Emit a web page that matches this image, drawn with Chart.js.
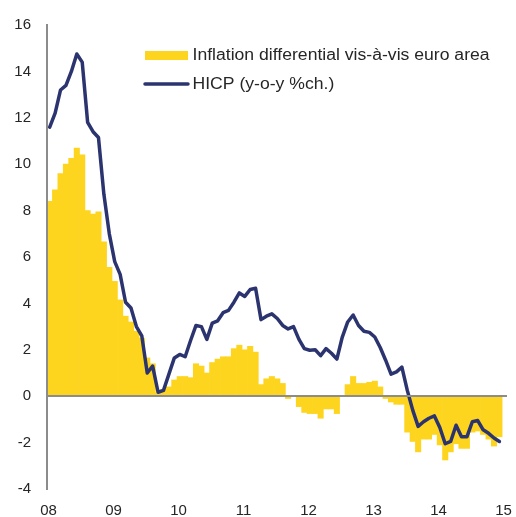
<!DOCTYPE html>
<html>
<head>
<meta charset="utf-8">
<script src="https://cdn.jsdelivr.net/npm/chart.js@4/dist/chart.umd.min.js"></script>
<style>
    body { margin: 0; background: #fff; }
    canvas { display: block; }
</style>
</head>
<body>
<canvas id="chartInflation" width="516" height="517"></canvas>
<script>
// monthly, Jan 2008 - Dec 2014
var yearLabels = ['08', '09', '10', '11', '12', '13', '14', '15'];

var differential = [
    8.4, 8.9, 9.6, 10.0, 10.25, 10.7, 10.4, 8.0, 7.85, 7.95, 6.65, 5.55,
    4.95, 4.15, 3.45, 3.2, 2.8, 2.5, 1.65, 1.4, 0.15, 0.3, 0.4, 0.7,
    0.85, 0.85, 0.8, 1.4, 1.3, 1.0, 1.45, 1.6, 1.7, 1.7, 2.05, 2.2,
    2.0, 2.15, 1.9, 0.5, 0.75, 0.85, 0.75, 0.55, -0.1, 0.0, -0.45, -0.7,
    -0.75, -0.75, -0.95, -0.55, -0.55, -0.75, 0.0, 0.5, 0.85, 0.55, 0.55, 0.6,
    0.65, 0.4, -0.1, -0.25, -0.35, -0.35, -1.55, -1.95, -2.4, -1.85, -1.85, -1.65,
    -2.1, -2.75, -2.4, -2.05, -2.25, -2.25, -1.55, -1.5, -1.65, -1.85, -2.15, -1.75
];

var hicp = [
    11.6, 12.2, 13.2, 13.4, 14.0, 14.75, 14.4, 11.8, 11.4, 11.15, 8.7, 7.0,
    5.8, 5.25, 4.05, 3.8, 3.0, 2.6, 1.0, 1.3, 0.17, 0.25, 0.95, 1.65,
    1.8, 1.7, 2.4, 3.05, 3.0, 2.45, 3.15, 3.25, 3.6, 3.7, 4.05, 4.45,
    4.3, 4.6, 4.65, 3.3, 3.45, 3.55, 3.35, 3.05, 2.9, 3.0, 2.45, 2.05,
    1.98, 2.0, 1.75, 2.05, 1.85, 1.6, 2.55, 3.2, 3.5, 3.05, 2.8, 2.75,
    2.55, 2.1, 1.55, 0.95, 1.05, 1.25, 0.25, -0.6, -1.3, -1.1, -0.95, -0.85,
    -1.35, -2.05, -1.95, -1.25, -1.75, -1.75, -1.1, -1.05, -1.45, -1.6, -1.8, -1.95
];

var yellow = '#fdd51f';
var navy = '#2b346f';
var axisGrey = '#8c8c8c';
var textColor = '#262626';
var fontFamily = '"Liberation Sans", Arial, sans-serif';

function toPoints(values) {
    return values.map(function (v, i) {
        return { x: i + 0.5, y: v };
    });
}

// the source text is a little wider than Arial, so stretch it sideways
function wideText(ctx, text, x, y) {
    ctx.save();
    ctx.translate(x, y);
    ctx.scale(1.1, 1);
    ctx.fillText(text, 0, 0);
    ctx.restore();
}

// legend drawn by hand in the top right corner of the plot
var legendPlugin = {
    id: 'cornerLegend',
    afterDraw: function (chart) {
        var ctx = chart.ctx;
        var sets = chart.data.datasets;
        ctx.save();
        ctx.font = '16px ' + fontFamily;
        ctx.textBaseline = 'middle';

        ctx.fillStyle = sets[1].backgroundColor;
        ctx.fillRect(145, 51, 43, 9);
        ctx.fillStyle = textColor;
        wideText(ctx, sets[1].label, 192.5, 55.5);

        ctx.strokeStyle = sets[0].borderColor;
        ctx.lineWidth = 3.5;
        ctx.lineCap = 'round';
        ctx.beginPath();
        ctx.moveTo(145, 84);
        ctx.lineTo(188, 84);
        ctx.stroke();
        wideText(ctx, sets[0].label, 192.5, 84.5);
        ctx.restore();
    }
};

var ctx = document.getElementById('chartInflation').getContext('2d');

var chart = new Chart(ctx, {
    type: 'bar',
    data: {
        datasets: [{
            type: 'line',
            label: 'HICP (y-o-y %ch.)',
            data: toPoints(hicp),
            borderColor: navy,
            borderWidth: 3.5,
            borderJoinStyle: 'round',
            borderCapStyle: 'round',
            pointRadius: 0,
            tension: 0,
            order: 0
        }, {
            type: 'bar',
            label: 'Inflation differential vis-à-vis euro area',
            data: toPoints(differential),
            backgroundColor: yellow,
            borderWidth: 0,
            barPercentage: 1,
            categoryPercentage: 1,
            order: 1
        }]
    },
    options: {
        responsive: false,
        animation: false,
        layout: {
            padding: { top: 23, right: 9, bottom: 0, left: 0 }
        },
        plugins: {
            legend: { display: false },
            tooltip: { enabled: false }
        },
        scales: {
            x: {
                type: 'linear',
                min: 0,
                max: 84.9,
                offset: false,
                grid: { display: false, offset: false, drawTicks: false },
                border: { display: false },
                ticks: {
                    padding: 13,
                    labelOffset: 1.5,
                    color: textColor,
                    font: { family: fontFamily, size: 15 },
                    maxRotation: 0,
                    autoSkip: false,
                    callback: function (value) {
                        return yearLabels[Math.round(value / 12)];
                    }
                },
                afterBuildTicks: function (scale) {
                    scale.ticks = yearLabels.map(function (label, i) {
                        return { value: i * 12 };
                    });
                },
                afterFit: function (scale) {
                    scale.height = 28;
                    scale.paddingLeft = 0;
                    scale.paddingRight = 0;
                }
            },
            y: {
                min: -4,
                max: 16,
                grid: {
                    z: 1,
                    drawTicks: false,
                    lineWidth: 2,
                    color: function (c) {
                        return c.tick && c.tick.value === 0 ? axisGrey : 'rgba(0,0,0,0)';
                    }
                },
                border: { display: true, color: axisGrey, width: 2, z: 1 },
                ticks: {
                    stepSize: 2,
                    padding: 16,
                    color: textColor,
                    font: { family: fontFamily, size: 15 }
                },
                afterFit: function (scale) {
                    scale.width = 47;
                }
            }
        }
    },
    plugins: [legendPlugin]
});
</script>
</body>
</html>
